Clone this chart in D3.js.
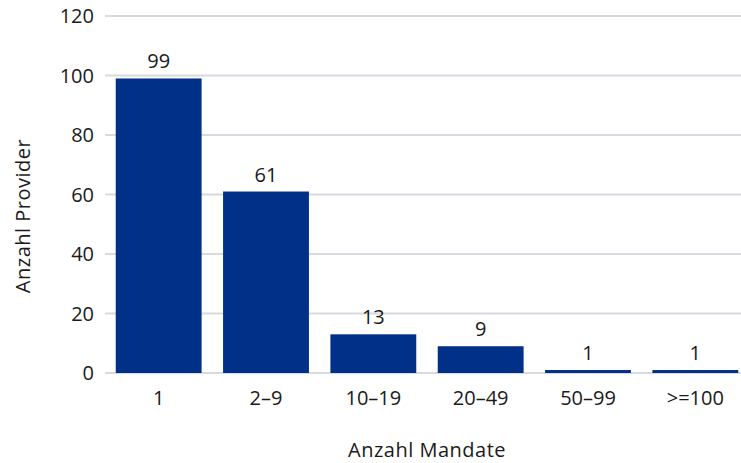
<!DOCTYPE html>
<html>
<head>
<meta charset="utf-8">
<script src="https://cdn.jsdelivr.net/npm/d3@7"></script>
<style>
  html, body { margin: 0; padding: 0; background: #fff; }
  svg { display: block; font-family: "Open Sans", "Noto Sans", sans-serif; font-weight: 400; }
</style>
</head>
<body>
<svg id="chart" width="741" height="463"></svg>
<script>
// Anzahl Provider je Größenklasse (Anzahl Mandate)
const categories = ["1", "2–9", "10–19", "20–49", "50–99", ">=100"];
const providers = [99, 61, 13, 9, 1, 1];
const yTicks = [0, 20, 40, 60, 80, 100, 120];

const svg = d3.select("#chart");
const margin = { top: 16, left: 105, bottom: 90 };
const height = 463;
const y0 = height - margin.bottom;
const textColor = "#1a1a1a";
const fontSize = 20;

const x = d3.scaleBand()
  .domain(categories)
  .range([margin.left, margin.left + 644])
  .paddingInner(0.2)
  .paddingOuter(0.1);

const y = d3.scaleLinear()
  .domain([0, 120])
  .range([y0, margin.top]);

// horizontal grid
svg.append("g")
  .selectAll("line")
  .data(yTicks)
  .join("line")
  .attr("x1", margin.left)
  .attr("x2", 741)
  .attr("y1", d => y(d))
  .attr("y2", d => y(d))
  .attr("stroke", "#d7dae1")
  .attr("stroke-width", 2);

// y tick labels
svg.append("g")
  .selectAll("text")
  .data(yTicks)
  .join("text")
  .attr("x", 94)
  .attr("y", d => y(d))
  .attr("dy", "0.36em")
  .attr("text-anchor", "end")
  .attr("font-size", fontSize)
  .attr("fill", textColor)
  .text(d => d);

// bars
svg.append("g")
  .selectAll("rect")
  .data(categories)
  .join("rect")
  .attr("x", d => x(d))
  .attr("width", x.bandwidth())
  .attr("y", (d, i) => y(providers[i]))
  .attr("height", (d, i) => y(0) - y(providers[i]))
  .attr("fill", "#003087");

// value labels
svg.append("g")
  .selectAll("text")
  .data(categories)
  .join("text")
  .attr("x", d => x(d) + x.bandwidth() / 2)
  .attr("y", (d, i) => y(providers[i]) - 10)
  .attr("text-anchor", "middle")
  .attr("font-size", fontSize)
  .attr("fill", textColor)
  .text((d, i) => providers[i]);

// x tick labels
svg.append("g")
  .selectAll("text")
  .data(categories)
  .join("text")
  .attr("x", d => x(d) + x.bandwidth() / 2)
  .attr("y", 405)
  .attr("text-anchor", "middle")
  .attr("font-size", fontSize)
  .attr("fill", textColor)
  .text(d => d);

// axis titles
svg.append("text")
  .attr("x", 427)
  .attr("y", 457)
  .attr("text-anchor", "middle")
  .attr("font-size", fontSize)
  .attr("letter-spacing", 0.5)
  .attr("fill", textColor)
  .text("Anzahl Mandate");

svg.append("text")
  .attr("transform", "translate(30,216) rotate(-90)")
  .attr("text-anchor", "middle")
  .attr("font-size", fontSize)
  .attr("letter-spacing", 0.5)
  .attr("fill", textColor)
  .text("Anzahl Provider");
</script>
</body>
</html>
